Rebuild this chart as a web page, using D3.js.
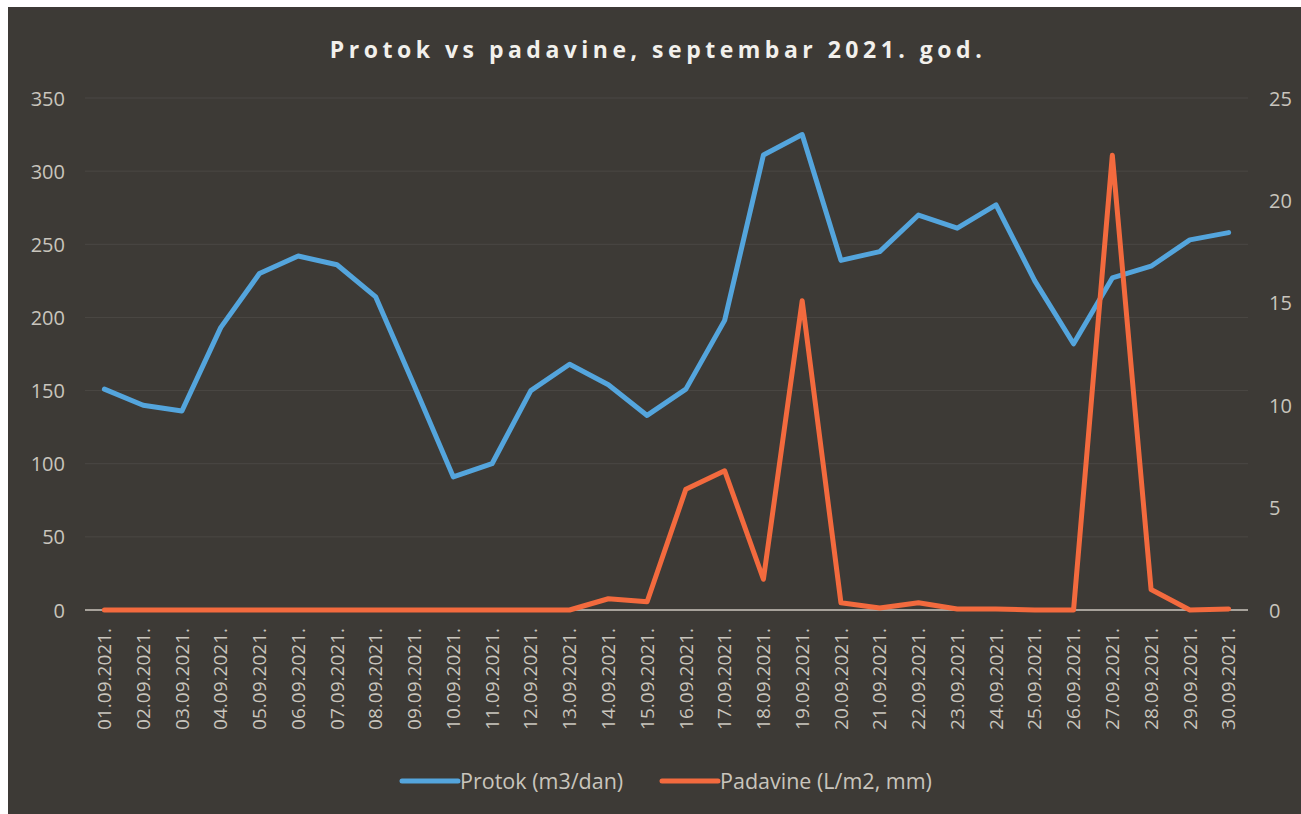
<!DOCTYPE html>
<html>
<head>
<meta charset="utf-8">
<script src="https://cdn.jsdelivr.net/npm/d3@7"></script>
<style>
  html, body { margin: 0; padding: 0; background: #fff; }
  svg { display: block; }
</style>
</head>
<body>
<svg id="chart" width="1301" height="814"></svg>
<script>
// chart data
const dates = ["01.09.2021.","02.09.2021.","03.09.2021.","04.09.2021.","05.09.2021.","06.09.2021.",
  "07.09.2021.","08.09.2021.","09.09.2021.","10.09.2021.","11.09.2021.","12.09.2021.","13.09.2021.",
  "14.09.2021.","15.09.2021.","16.09.2021.","17.09.2021.","18.09.2021.","19.09.2021.","20.09.2021.",
  "21.09.2021.","22.09.2021.","23.09.2021.","24.09.2021.","25.09.2021.","26.09.2021.","27.09.2021.",
  "28.09.2021.","29.09.2021.","30.09.2021."];
const protok = [151, 140, 136, 193, 230, 242, 236, 214, 153, 91, 100, 150, 168, 154, 133,
  151, 198, 311, 325, 239, 245, 270, 261, 277, 225, 182, 227, 235, 253, 258];
const padavine = [0, 0, 0, 0, 0, 0, 0, 0, 0, 0, 0, 0, 0, 0.55, 0.4,
  5.9, 6.8, 1.5, 15.1, 0.35, 0.1, 0.35, 0.05, 0.05, 0, 0, 22.2, 1.0, 0, 0.05];
const leftTicks = [0, 50, 100, 150, 200, 250, 300, 350];
const rightTicks = [0, 5, 10, 15, 20, 25];
const seriesNames = ["Protok (m3/dan)", "Padavine (L/m2, mm)"];
const seriesColors = ["#54a5dd", "#f36a3e"];
const chartTitle = "Protok vs padavine, septembar 2021. god.";

const svg = d3.select("#chart");
const W = 1301, H = 814;

// scanned page: white paper with the dark chart area
svg.append("rect").attr("width", W).attr("height", H).attr("fill", "#ffffff");
svg.append("rect").attr("x", 8).attr("y", 7).attr("width", W - 8).attr("height", H - 7)
  .attr("fill", "#3d3a36");

const x = d3.scaleBand().domain(dates).range([85, 1248]);
const yL = d3.scaleLinear().domain([0, 350]).range([610, 98]);
const yR = d3.scaleLinear().domain([0, 25]).range([610, 98]);
const fontAxis = "'Open Sans', 'Liberation Sans', sans-serif";
const tickColor = "#c9c5bd";

// gridlines (very faint in the scan)
svg.append("g")
  .selectAll("line").data(leftTicks.filter(d => d > 0)).join("line")
  .attr("x1", 85).attr("x2", 1248)
  .attr("y1", d => yL(d)).attr("y2", d => yL(d))
  .attr("stroke", "#ffffff").attr("stroke-opacity", 0.07).attr("stroke-width", 1);

// left axis
const gl = svg.append("g").attr("transform", "translate(65,0)")
  .call(d3.axisLeft(yL).tickValues(leftTicks).tickSize(0).tickPadding(0));
gl.select(".domain").remove();
gl.selectAll("text").attr("fill", tickColor).attr("font-size", 20)
  .attr("font-family", fontAxis).attr("dy", "0.35em");

// right axis
const gr = svg.append("g").attr("transform", "translate(1269,0)")
  .call(d3.axisRight(yR).tickValues(rightTicks).tickSize(0).tickPadding(0));
gr.select(".domain").remove();
gr.selectAll("text").attr("fill", tickColor).attr("font-size", 20)
  .attr("font-family", fontAxis).attr("dy", "0.35em");

// baseline
svg.append("line").attr("x1", 85).attr("x2", 1248)
  .attr("y1", yL(0)).attr("y2", yL(0))
  .attr("stroke", "#a7a29b").attr("stroke-width", 2);

// x axis labels, rotated
const gx = svg.append("g").attr("transform", `translate(0,${yL(0)})`)
  .call(d3.axisBottom(x).tickSize(0).tickPadding(0));
gx.select(".domain").remove();
gx.selectAll("text")
  .attr("fill", tickColor).attr("font-size", 19).attr("font-family", fontAxis)
  .attr("text-anchor", "end")
  .attr("transform", "translate(0,18) rotate(-90)")
  .attr("x", 0).attr("y", 0).attr("dy", "0.35em");

// lines
const lineL = d3.line().x((d, i) => x(dates[i]) + x.bandwidth() / 2).y(d => yL(d));
const lineR = d3.line().x((d, i) => x(dates[i]) + x.bandwidth() / 2).y(d => yR(d));
svg.append("path").datum(protok).attr("d", lineL)
  .attr("fill", "none").attr("stroke", seriesColors[0]).attr("stroke-width", 5)
  .attr("stroke-linejoin", "round").attr("stroke-linecap", "round");
svg.append("path").datum(padavine).attr("d", lineR)
  .attr("fill", "none").attr("stroke", seriesColors[1]).attr("stroke-width", 5)
  .attr("stroke-linejoin", "round").attr("stroke-linecap", "round");

// title
svg.append("text").attr("x", 658).attr("y", 58).attr("text-anchor", "middle")
  .attr("fill", "#f2f0ec").attr("font-size", 23).attr("font-weight", "bold")
  .attr("font-family", fontAxis).attr("letter-spacing", "4.5px")
  .text(chartTitle);

// legend
const legendX = [402, 662];
const lg = svg.append("g").selectAll("g").data(seriesNames).join("g")
  .attr("transform", (d, i) => `translate(${legendX[i]},781)`);
lg.append("line").attr("x1", 0).attr("x2", 56).attr("y1", 0).attr("y2", 0)
  .attr("stroke", (d, i) => seriesColors[i]).attr("stroke-width", 5).attr("stroke-linecap", "round");
lg.append("text").attr("x", 58).attr("y", 0).attr("dy", "0.35em")
  .attr("fill", tickColor).attr("font-size", 21.5).attr("font-family", fontAxis)
  .text(d => d);
</script>
</body>
</html>
